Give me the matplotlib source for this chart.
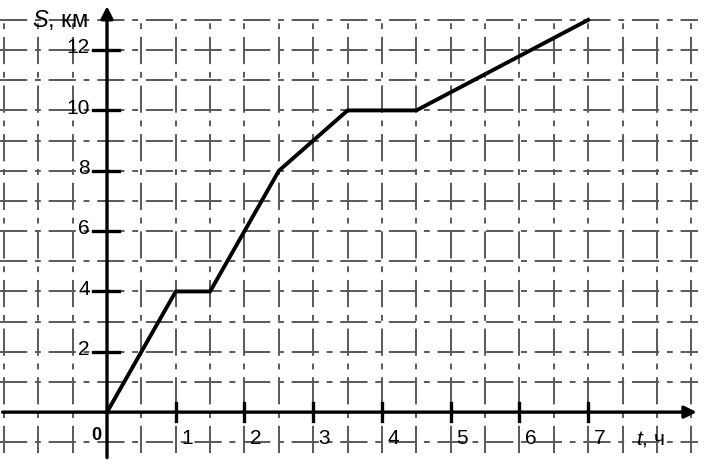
import numpy as np
import matplotlib.pyplot as plt

plt.rcParams['font.family'] = ['Liberation Sans', 'DejaVu Sans']
plt.rcParams['mathtext.fontset'] = 'custom'
plt.rcParams['mathtext.it'] = 'Liberation Sans:italic'
plt.rcParams['mathtext.rm'] = 'Liberation Sans'

# данные: путь S (км) от времени t (ч)
t_h = [0, 1, 1.5, 2.5, 3.5, 4.5, 7]
s_km = [0, 4, 4, 8, 10, 10, 13]

x_ticks = [1, 2, 3, 4, 5, 6, 7]
y_ticks = [2, 4, 6, 8, 10, 12]

fig = plt.figure(figsize=(7.05, 4.61), dpi=100)
ax = fig.add_axes([0, 0, 1, 1])
ax.set_xlim(-1.557, 8.70)
ax.set_ylim(-1.62, 13.66)
ax.axis('off')

grid_kw = dict(color='0.35', lw=1.4, ls=(0, (14, 4, 3, 4)), zorder=1)
for gx in np.arange(-1.5, 8.51, 0.5):
    if gx == 0:
        continue
    ax.plot([gx, gx], [-1.35, 13], **grid_kw)
for gy in range(-1, 14):
    if gy == 0:
        continue
    ax.plot([-1.56, 8.6], [gy, gy], **grid_kw)

# оси
ax.annotate('', xy=(8.62, 0), xytext=(-1.56, 0),
            arrowprops=dict(arrowstyle='-|>', color='k', lw=2.4,
                            mutation_scale=18), zorder=3)
ax.annotate('', xy=(0, 13.55), xytext=(0, -1.6),
            arrowprops=dict(arrowstyle='-|>', color='k', lw=2.4,
                            mutation_scale=18), zorder=3)

for x in x_ticks:
    ax.plot([x, x], [-0.3, 0.3], color='k', lw=2.4, zorder=3)
    ax.text(x + 0.08, -0.55, str(x), fontsize=15, ha='left', va='top')
for y in y_ticks:
    ax.plot([-0.2, 0.18], [y, y], color='k', lw=2.4, zorder=3)
    ax.text(-0.25, y + 0.08, str(y), fontsize=15, ha='right', va='center')

ax.text(-0.08, -0.5, '0', fontsize=13, fontweight='bold', ha='right', va='top')
ax.text(-0.28, 13.0, r'$S$, км', fontsize=17, ha='right', va='center')
ax.text(7.7, -0.55, r'$t$, ч', fontsize=15, ha='left', va='top')

ax.plot(t_h, s_km, color='k', lw=2.8, zorder=4, solid_joinstyle='round')

fig.savefig('out.png', dpi=100)
